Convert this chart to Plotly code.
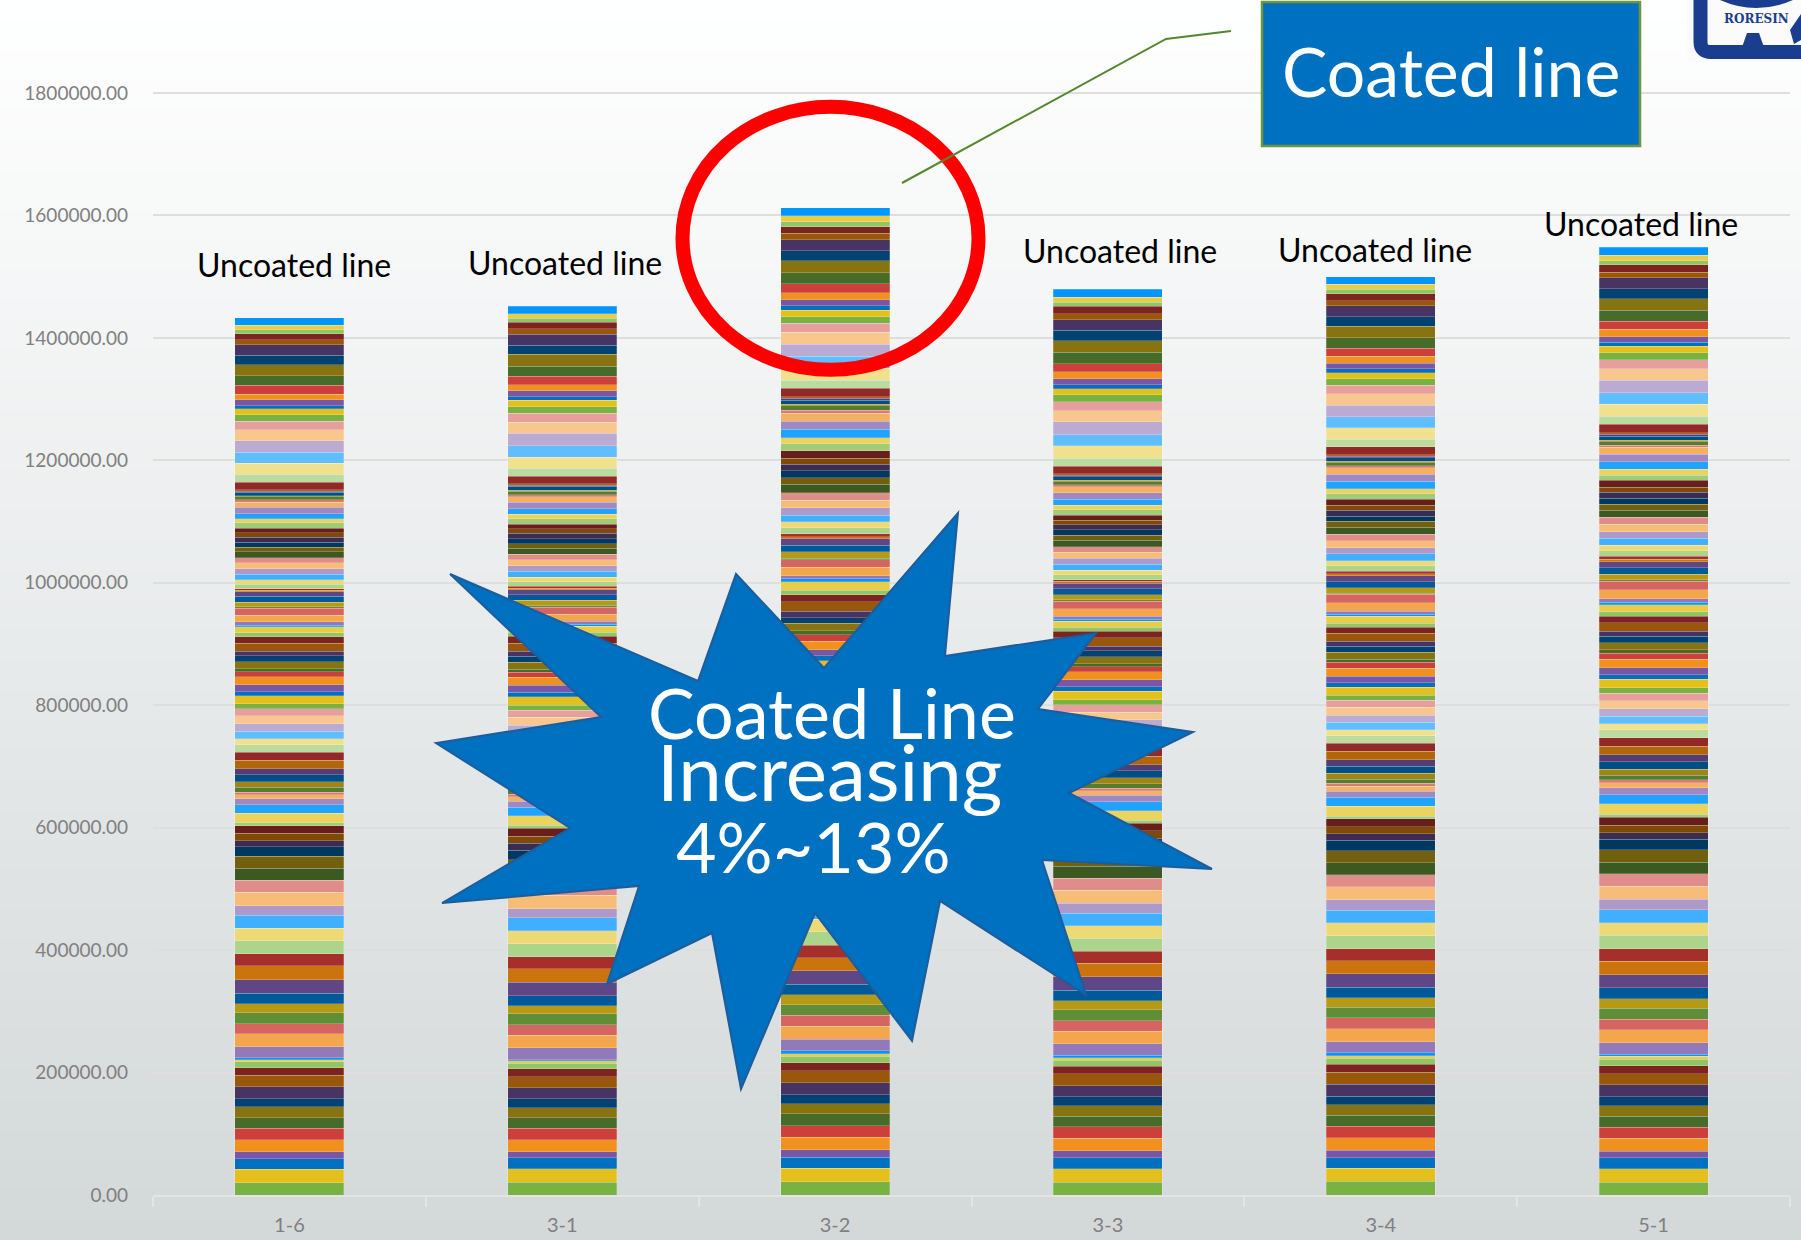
import plotly.graph_objects as go
import colorsys

# ---------------- data ----------------
categories = ["1-6", "3-1", "3-2", "3-3", "3-4", "5-1"]
y_tick_values = [0, 200000, 400000, 600000, 800000, 1000000, 1200000, 1400000, 1600000, 1800000]
line_labels = ["Uncoated line", "Uncoated line", "", "Uncoated line", "Uncoated line", "Uncoated line"]

# stacked segment values (bottom -> top), one list per bar
seg_1_6 = [20200, 21800, 17400, 10900, 20200, 18500, 17400, 18000, 13100, 19600, 18500, 12500,
           9300, 3800, 2700, 18500, 21200, 16300, 18000, 14700, 16900, 22300, 22300, 19600,
           21200, 20700, 21200, 15800, 21800, 19600, 19600, 19600, 15300, 10300, 12000, 12500,
           4900, 15300, 14200, 9800, 6500, 3800, 8200, 8700, 11400, 10300, 13600, 13100,
           12000, 10300, 12000, 12500, 12500, 12000, 7600, 13600, 6500, 11400, 13100, 8200,
           4400, 11400, 9800, 7600, 13100, 10900, 6000, 10300, 2700, 5400, 10900, 10900,
           2700, 7600, 9300, 7600, 2700, 2200, 7600, 7100, 8700, 9300, 9300, 8700,
           9800, 7100, 8200, 8200, 7100, 7600, 8700, 6500, 8700, 10300, 8700, 3300,
           5400, 1600, 6000, 1600, 2200, 12500, 12500, 18500, 18000, 18500, 18000, 14200,
           10300, 9800, 4900, 9800, 9300, 14200, 15800, 18000, 15300, 16900, 8200, 9800,
           6500, 7600, 12000]
seg_3_1 = [20700, 21800, 18000, 9800, 20200, 18500, 16900, 16300, 14700, 18000, 18500, 13100,
           8700, 3800, 2200, 19100, 20700, 16900, 18000, 13600,
           16300, 21800, 22300, 19600, 21200, 20700, 21200, 15300, 21800, 19600, 19100, 19600,
           15300, 10900, 12000, 13100, 4900, 15300, 14200, 9800, 7100, 3800, 8200, 8700,
           11400, 10900, 13600, 13100, 12000, 10300, 12500, 12500, 12500, 12000,
           8200, 13600, 7100, 11400, 13100, 8700, 4900, 11400, 9800, 8200, 13100, 10900,
           6500, 10300, 2700, 5400, 11400, 11400, 2700, 8200, 9300, 8200, 2700, 2700,
           7600, 7600, 9300, 9300, 9800, 8700, 9800, 7600, 8200, 8700, 7600, 7600,
           8700, 7100, 9300, 10300, 9300, 3300, 5400, 2200, 6000, 2200, 2200, 12500,
           12500, 18500, 18500, 20200, 18500, 14700,
           10300, 10900, 5400, 9800, 9800, 14200, 16300, 19100, 15300, 17900, 8700, 10300,
           6500, 7600, 12500]
seg_3_2 = [21800, 21800, 18000, 12000, 20700, 19100, 19100, 16900, 14700, 19100, 19600, 13600,
           10300, 4400, 4400, 19100, 21200, 17400, 17400,
           16700, 16700, 22300, 21100, 20500, 21700,
           21200, 21800, 17400, 23400, 20700, 19600, 21800, 17400, 11400, 12500, 14200,
           5400, 18500, 15300, 11400, 8700, 6000, 7600, 11000, 12500, 12000, 15800, 14200,
           14700, 10300, 13100, 14200, 13600, 12500, 9800, 15300, 8200,
           9300, 14300, 10500, 6200, 12400, 9300, 10500, 15500, 11200, 7400, 14300, 4300,
           5000, 14300, 11800,
           2700, 10300, 10900, 10300, 3800, 4400, 10300, 9300, 10900, 12500, 12000, 12500,
           13600, 10300, 12000, 10300, 9800, 12000, 11400, 10300, 13600, 13600, 12500, 5400,
           7100, 2700, 6500, 2700, 2700, 13600, 13600, 19100, 20200, 19100, 19600, 14700,
           10900, 10900, 7100, 9300, 12000, 14200, 18500, 19100, 16900, 18000, 10300, 10900,
           7600, 9800, 13100]
seg_3_3 = [20700, 21800, 18000, 11400, 20700, 18500, 17400, 17400, 14200, 18500, 19100, 12500,
           9800, 4400, 3800, 18500, 20700, 16900, 18000,
           14700, 17400, 22300, 21800, 19600, 21200, 20200, 20700, 16300, 21200, 19600, 19600,
           19600, 16300, 10300, 12000, 12500, 4400, 15800, 14700, 10300, 7100, 4400, 7600,
           9300, 11400, 10300, 13600, 13100, 12500, 10300, 12000, 12000, 12500, 12000,
           8200, 13600, 7100, 11400, 13100, 8700, 4900, 11400, 9800, 7600, 13100, 10900,
           6500, 10300, 2700, 5400, 12000, 12500, 2200, 8200, 9800, 8700, 3300, 2700,
           8200, 7600, 9300, 9800, 9800, 9300, 10300, 8200, 8700, 8200, 7600, 8200,
           8700, 7600, 9800, 10900, 9300, 3300, 5400, 2200, 6000, 2200, 2200, 12500,
           13100, 20200, 18500, 20700, 18500, 14700,
           10900, 10300, 6500, 9300, 11400, 13600, 18500, 19100, 16900, 17400, 9300, 12500,
           6500, 8200, 13100]
seg_3_4 = [22300, 21200, 17400, 12000, 20700, 19100, 17400, 17400, 14200, 19600, 19100, 13100,
           9800, 4400, 4400, 18000, 21200, 18000, 17400,
           15300, 17400, 21800, 21200, 20200, 21200, 20700, 20700, 16900, 21800, 19600, 19100,
           19600, 16900, 10900, 11400, 13100, 4400, 16300, 14200, 10300, 7600, 4900, 7100,
           9300, 11400, 10900, 13600, 13100, 12500, 9800, 12000, 12000, 12500, 11400,
           8700, 13100, 7100, 10900, 13100, 9300, 4900, 11400, 9800, 8200, 13100, 10300,
           6500, 10900, 3300, 5400, 13600, 13600, 2200, 8700, 9800, 9800, 3300, 4400,
           8700, 8200, 10900, 10300, 11400, 10900, 10900, 9800, 8700, 9300, 8200, 10300,
           8200, 8700, 12000, 11400, 10900, 3300, 4900, 2200, 6000, 2200, 2200, 13100,
           12500, 18500, 18000, 19100, 18500, 14200,
           10900, 9800, 6000, 9300, 11400, 13100, 17400, 18500, 15800, 17400, 8700, 11400,
           7100, 8200, 12000]
seg_5_1 = [20700, 21800, 18000, 10900, 21200, 18000, 18000, 17400, 14200, 19600, 18000, 13600,
           10300, 4900, 3300, 18500, 21200, 17400, 18000, 15300, 18000, 21800, 21800, 20200,
           21800, 20700, 21200, 16900, 21800, 20200, 19100, 20200, 16900, 10900, 12000, 13600,
           4900, 16900, 14700, 10900, 8200, 5400, 7100, 9800, 12000, 11400, 14200, 13600,
           13100, 9800, 12500, 12500, 13100, 12000, 9300, 13600, 7600, 11400, 13600, 9800,
           5400, 12000, 10300, 8700, 13600, 10900, 7100, 11400, 3800, 6000, 14200, 14200,
           2200, 9300, 10300, 10300, 3800, 4900, 9300, 8700, 11400, 10900, 12000, 11400,
           11400, 10300, 9300, 9800, 8700, 10900, 8700, 9300, 12500, 12000, 11400, 3800,
           5400, 2700, 6500, 2700, 2700, 13600, 13100, 19600, 19100, 20200, 19100, 14700,
           11400, 10300, 6500, 9300, 12000, 13100, 18000, 19100, 16300, 18000, 8700, 12500,
           6500, 8700, 13100]
bars = [seg_1_6, seg_3_1, seg_3_2, seg_3_3, seg_3_4, seg_5_1]

# ---------------- style ----------------
W, H = 1801, 1240
ML, MR, MT, MB = 153, 11, 2, 45
PW, PH = W - ML - MR, H - MT - MB
Y_TOP = 1948600

def X(px):
    return (px - ML) / PW

def Y(py):
    return (H - MB - py) / PH

accents = ["#77B243", "#E3C01C", "#0070C0", "#7757A8", "#F0901E", "#CC3F3A"]
variants = [(1, 0), (0.6, 0), (0.8, 0.2), (0.8, 0), (0.6, 0.4), (0.5, 0), (0.7, 0.3), (0.7, 0), (0.5, 0.5)]

def shade(hexc, mod, off):
    r, g, b = (int(hexc[i:i + 2], 16) / 255 for i in (1, 3, 5))
    h, l, s = colorsys.rgb_to_hls(r, g, b)
    l = min(1.0, l * mod + off)
    r, g, b = colorsys.hls_to_rgb(h, l, s)
    return "#%02x%02x%02x" % (round(r * 255), round(g * 255), round(b * 255))

fig = go.Figure()
n_series = min(len(b) for b in bars)
for i in range(n_series):
    mod, off = variants[(i // 6) % len(variants)]
    col = shade(accents[i % 6], mod, off)
    fig.add_trace(go.Bar(
        x=categories, y=[b[i] for b in bars], marker_color=col,
        marker_line=dict(width=0.6, color="rgba(255,255,255,0.35)"),
        showlegend=False, hoverinfo="skip"))

shapes = []
# background gradient
steps = 124
for k in range(steps):
    t = (k + 0.5) / steps
    c = tuple(round(255 + (e - 255) * t) for e in (211, 216, 217))
    shapes.append(dict(type="rect", xref="paper", yref="paper", layer="below",
                       x0=X(0), x1=X(W), y0=Y(k * H / steps), y1=Y((k + 1) * H / steps + 1),
                       fillcolor="rgb(%d,%d,%d)" % c, line_width=0))

# starburst
star_pts = [(450, 574), (698, 681), (736, 574), (824, 668), (958, 513), (945, 656), (1096, 633),
            (1038, 709), (1193, 732), (1069, 793), (1212, 869), (1042, 860), (1086, 995),
            (940, 901), (912, 1041), (815, 913), (741, 1089), (712, 933), (607, 984),
            (639, 886), (442, 903), (570, 828), (436, 743), (601, 717)]
path = "M " + " L ".join("%.5f,%.5f" % (X(x), Y(y)) for x, y in star_pts) + " Z"
shapes.append(dict(type="path", xref="paper", yref="paper", path=path,
                   fillcolor="#0070C0", line=dict(color="#1d5d9b", width=2)))

# red ellipse
shapes.append(dict(type="circle", xref="paper", yref="paper",
                   x0=X(682.5), x1=X(978.5), y0=Y(369.8), y1=Y(106.8),
                   line=dict(color="#FF0000", width=14)))
# callout line
cl = [(1231, 31), (1166, 39), (902, 183)]
shapes.append(dict(type="path", xref="paper", yref="paper",
                   path="M " + " L ".join("%.5f,%.5f" % (X(x), Y(y)) for x, y in cl),
                   line=dict(color="#55872e", width=2)))
# coated line box
shapes.append(dict(type="rect", xref="paper", yref="paper",
                   x0=X(1262), x1=X(1640), y0=Y(146), y1=Y(2),
                   fillcolor="#0070C0", line=dict(color="#6f963a", width=2.5)))
# logo (partial, top-right corner)
shapes.append(dict(type="rect", xref="paper", yref="paper", x0=X(1687), x1=X(1801), y0=Y(62), y1=Y(0),
                   fillcolor="#fbfbfb", line_width=0))
shapes.append(dict(type="path", xref="paper", yref="paper",
                   path="M %.5f,%.5f L %.5f,%.5f Q %.5f,%.5f %.5f,%.5f L %.5f,%.5f" % (
                       X(1700.5), Y(0), X(1700.5), Y(42), X(1700.5), Y(52), X(1711), Y(52), X(1801), Y(52)),
                   line=dict(color="#1b3d8f", width=14)))
shapes.append(dict(type="path", xref="paper", yref="paper",
                   path="M %.5f,%.5f L %.5f,%.5f L %.5f,%.5f L %.5f,%.5f Z" % (
                       X(1741), Y(50), X(1747), Y(33), X(1759), Y(33), X(1765), Y(50)),
                   fillcolor="#1b3d8f", line_width=0))
shapes.append(dict(type="path", xref="paper", yref="paper",
                   path="M %.5f,%.5f Q %.5f,%.5f %.5f,%.5f Z" % (
                       X(1720), Y(0), X(1756), Y(16), X(1793), Y(0)),
                   fillcolor="#1b3d8f", line_width=0))
shapes.append(dict(type="path", xref="paper", yref="paper",
                   path="M %.5f,%.5f L %.5f,%.5f L %.5f,%.5f L %.5f,%.5f Z" % (
                       X(1790), Y(30), X(1801), Y(14), X(1801), Y(40), X(1794), Y(44)),
                   fillcolor="#1b3d8f", line_width=0))

annotations = []

def note(txt, cx, cy, size, color, family="Lato"):
    annotations.append(dict(xref="paper", yref="paper", x=X(cx), y=Y(cy), text=txt,
                            xanchor="center", yanchor="middle", showarrow=False,
                            font=dict(family=family, size=size, color=color)))

label_pos = [(294, 264), (565, 262), None, (1120, 250), (1375, 249), (1641, 223)]
for txt, pos in zip(line_labels, label_pos):
    if txt and pos:
        note(txt, pos[0], pos[1], 32, "#000000")
note("Coated line", 1451, 71, 68, "#ffffff")
for txt, cx, cy, sz in [("Coated Line", 832, 712, 70), ("Increasing", 829, 771, 78), ("4%~13%", 813, 846, 70)]:
    note(txt, cx, cy, sz, "#ffffff")
note("<b>RORESIN</b>", 1756, 19, 12, "#1b3d8f", family="DejaVu Serif")

fig.update_layout(
    width=W, height=H, margin=dict(l=ML, r=MR, t=MT, b=MB, autoexpand=False),
    barmode="stack", bargap=0.6,
    paper_bgcolor="#ffffff", plot_bgcolor="rgba(0,0,0,0)",
    shapes=shapes, annotations=annotations,
    xaxis=dict(type="category", categoryorder="array", categoryarray=categories,
               showline=True, linecolor="#e2e4e5", linewidth=2,
               ticks="outside", tickson="boundaries", ticklen=10, tickcolor="#e2e4e5", tickwidth=2,
               tickfont=dict(family="Lato", size=20, color="#808080"), ticklabelstandoff=11,
               showgrid=False, fixedrange=True),
    yaxis=dict(range=[0, Y_TOP], tickvals=y_tick_values, tickformat=".2f",
               showgrid=True, gridcolor="#dedede", gridwidth=2, zeroline=False,
               tickfont=dict(family="Lato", size=19, color="#808080"), ticklabelstandoff=24,
               fixedrange=True),
)

fig.write_html("out.html", config={"displayModeBar": False},
               post_script="document.body.style.margin='0';")
